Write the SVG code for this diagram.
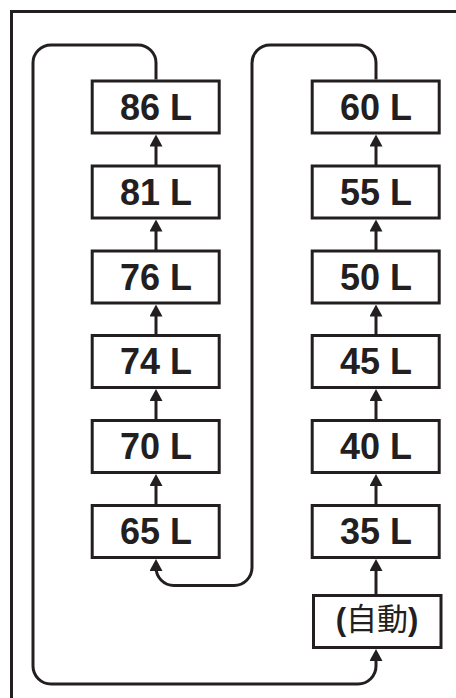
<svg xmlns="http://www.w3.org/2000/svg" width="456" height="698" viewBox="0 0 456 698">
<defs>
<style>
.box{fill:#fff;stroke:#231f20;stroke-width:3}
.lbl{font-family:"Liberation Sans",Arial,sans-serif;font-weight:bold;font-size:36px;fill:#231f20;text-anchor:middle}
.conn{fill:none;stroke:#231f20;stroke-width:3}
.frame{fill:none;stroke:#231f20;stroke-width:3}
.cjk{font-family:"Noto Sans CJK TC","Noto Sans CJK JP",sans-serif;font-weight:normal}
</style>
<marker id="ah" viewBox="0 0 12 13" markerUnits="userSpaceOnUse" markerWidth="12" markerHeight="13" refX="4" refY="6.5" orient="auto">
<path d="M0,0 L12,6.5 L0,13 Z" fill="#231f20"/>
</marker>
</defs>
<rect width="456" height="698" fill="#fff"/>
<path class="frame" d="M11.5,698 V11.5 H456"/>
<g id="connectors">
<path class="conn" d="M156,79.5 V63 A18,18 0 0 0 138,45 H51 A18,18 0 0 0 33,63 V666 A18,18 0 0 0 51,684 H358 A18,18 0 0 0 376,666 V657" marker-end="url(#ah)"/>
<path class="conn" d="M376,79.5 V63 A18,18 0 0 0 358,45 H270 A18,18 0 0 0 252,63 V567.5 A18,18 0 0 1 234,585.5 H174 A18,18 0 0 1 156,567.5 V567" marker-end="url(#ah)"/>
<path class="conn" d="M156,166 V142.5" marker-end="url(#ah)"/>
<path class="conn" d="M156,251 V227.5" marker-end="url(#ah)"/>
<path class="conn" d="M156,335.5 V312.5" marker-end="url(#ah)"/>
<path class="conn" d="M156,420.5 V397" marker-end="url(#ah)"/>
<path class="conn" d="M156,505.5 V482" marker-end="url(#ah)"/>
<path class="conn" d="M376,166 V142.5" marker-end="url(#ah)"/>
<path class="conn" d="M376,251 V227.5" marker-end="url(#ah)"/>
<path class="conn" d="M376,335.5 V312.5" marker-end="url(#ah)"/>
<path class="conn" d="M376,420.5 V397" marker-end="url(#ah)"/>
<path class="conn" d="M376,505.5 V482" marker-end="url(#ah)"/>
<path class="conn" d="M376,595.5 V567" marker-end="url(#ah)"/>
</g>
<g id="n86"><rect class="box" x="92.2" y="81" width="127" height="52"/><text class="lbl" x="156" y="119.5">86 L</text></g>
<g id="n81"><rect class="box" x="92.2" y="166" width="127" height="52"/><text class="lbl" x="156" y="204.5">81 L</text></g>
<g id="n76"><rect class="box" x="92.2" y="251" width="127" height="52"/><text class="lbl" x="156" y="289.5">76 L</text></g>
<g id="n74"><rect class="box" x="92.2" y="335.5" width="127" height="52"/><text class="lbl" x="156" y="374">74 L</text></g>
<g id="n70"><rect class="box" x="92.2" y="420.5" width="127" height="52"/><text class="lbl" x="156" y="459">70 L</text></g>
<g id="n65"><rect class="box" x="92.2" y="505.5" width="127" height="52"/><text class="lbl" x="156" y="544">65 L</text></g>
<g id="n60"><rect class="box" x="312.2" y="81" width="127" height="52"/><text class="lbl" x="376" y="119.5">60 L</text></g>
<g id="n55"><rect class="box" x="312.2" y="166" width="127" height="52"/><text class="lbl" x="376" y="204.5">55 L</text></g>
<g id="n50"><rect class="box" x="312.2" y="251" width="127" height="52"/><text class="lbl" x="376" y="289.5">50 L</text></g>
<g id="n45"><rect class="box" x="312.2" y="335.5" width="127" height="52"/><text class="lbl" x="376" y="374">45 L</text></g>
<g id="n40"><rect class="box" x="312.2" y="420.5" width="127" height="52"/><text class="lbl" x="376" y="459">40 L</text></g>
<g id="n35"><rect class="box" x="312.2" y="505.5" width="127" height="52"/><text class="lbl" x="376" y="544">35 L</text></g>
<g id="nauto"><rect class="box" x="313.5" y="595.5" width="127.5" height="52"/><text class="lbl" x="377" y="630" style="font-size:31px"><tspan>(</tspan><tspan class="cjk">自動</tspan><tspan>)</tspan></text></g>
</svg>
